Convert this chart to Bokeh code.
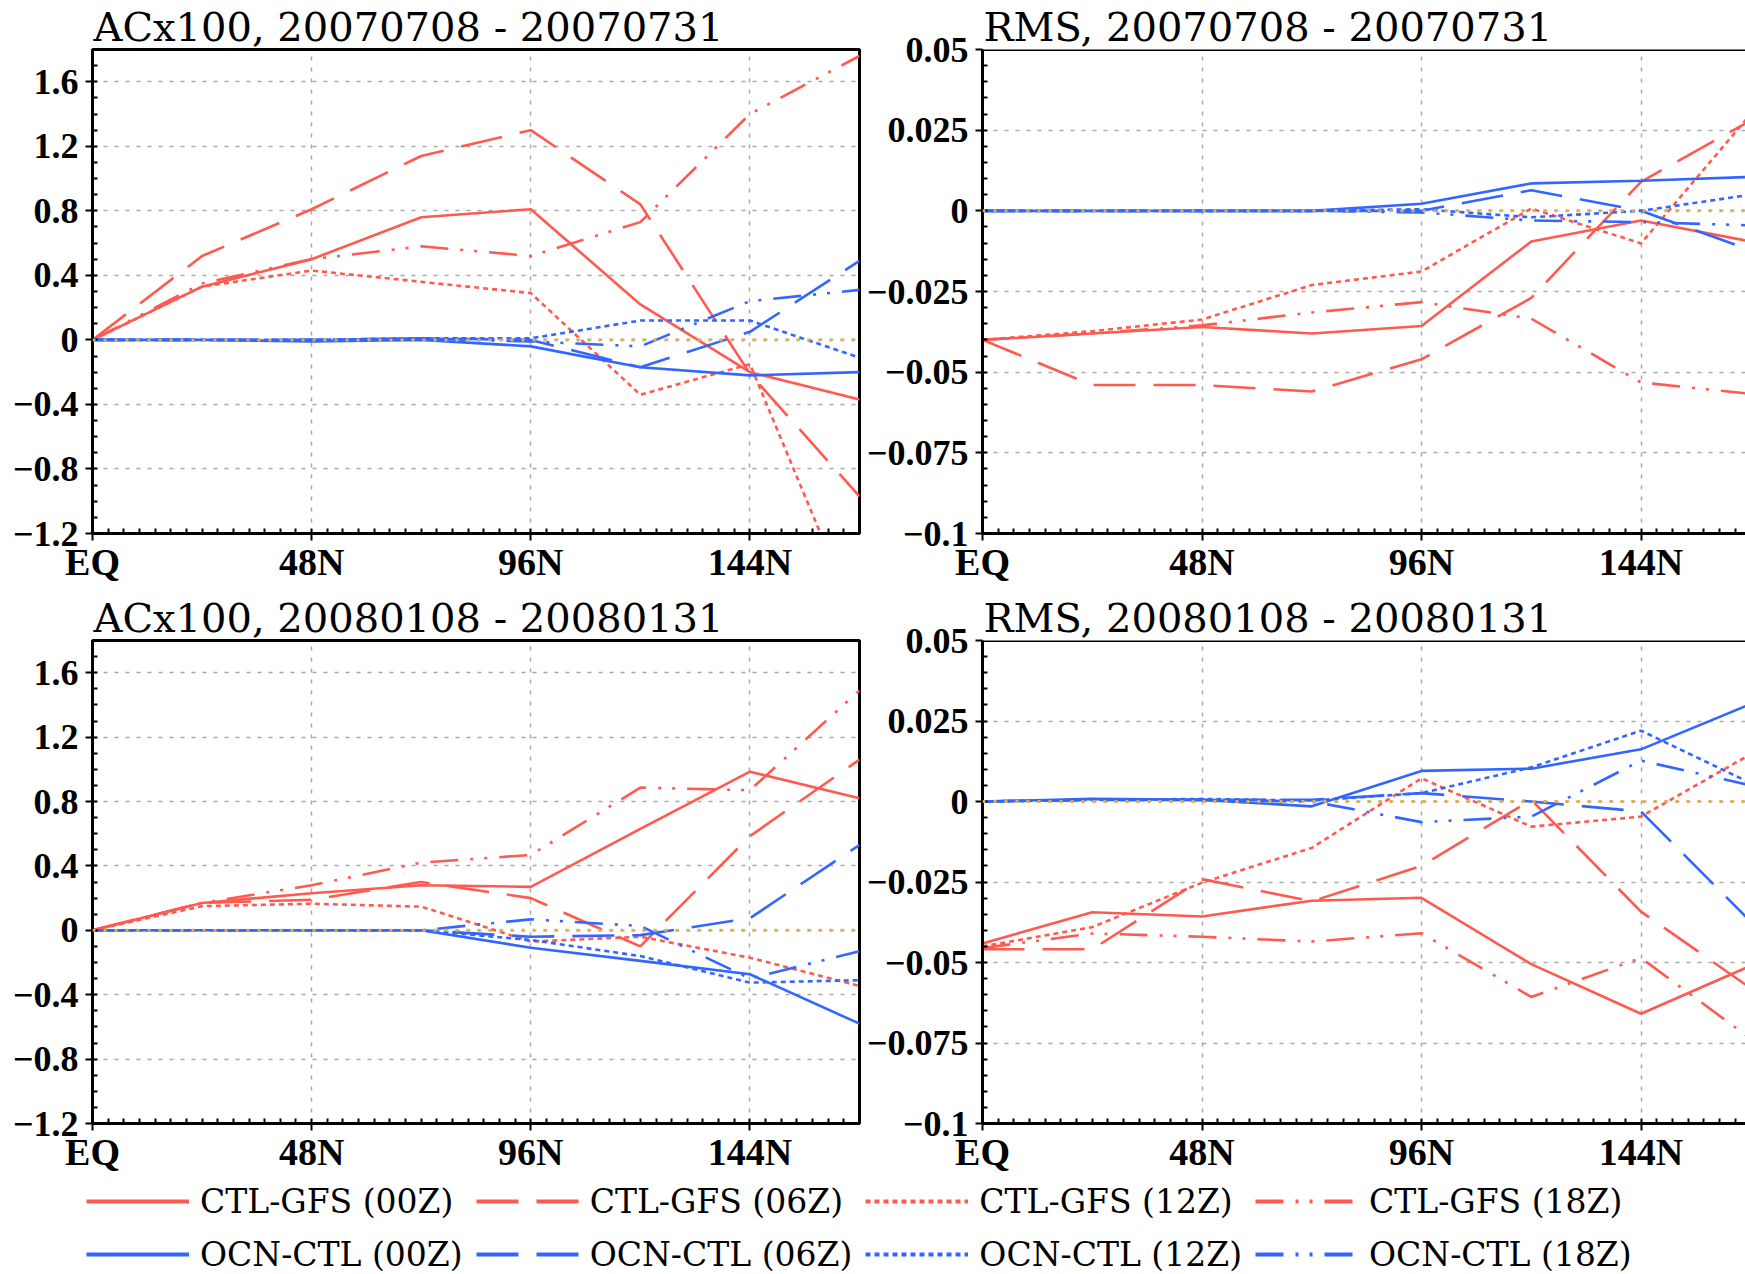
from bokeh.plotting import figure
from bokeh.models import (Range1d, FixedTicker, CustomJSTickFormatter, Span,
                          Legend, LegendItem)
from bokeh.layouts import column, row
from bokeh.embed import file_html
from bokeh.resources import INLINE

# ---------------- data ----------------
lat = [0, 24, 48, 72, 96, 120, 144, 168]

x_tick_values = [0, 48, 96, 144]
x_tick_labels = ["EQ", "48N", "96N", "144N"]

ac_tick_values = [-1.2, -0.8, -0.4, 0, 0.4, 0.8, 1.2, 1.6]
ac_tick_labels = ["\u22121.2", "\u22120.8", "\u22120.4", "0", "0.4", "0.8", "1.2", "1.6"]
rms_tick_values = [-0.1, -0.075, -0.05, -0.025, 0, 0.025, 0.05]
rms_tick_labels = ["\u22120.1", "\u22120.075", "\u22120.05", "\u22120.025", "0", "0.025", "0.05"]

series_names = ["CTL-GFS (00Z)", "CTL-GFS (06Z)", "CTL-GFS (12Z)", "CTL-GFS (18Z)",
                "OCN-CTL (00Z)", "OCN-CTL (06Z)", "OCN-CTL (12Z)", "OCN-CTL (18Z)"]

titles = ["ACx100, 20070708 - 20070731", "RMS, 20070708 - 20070731",
          "ACx100, 20080108 - 20080131", "RMS, 20080108 - 20080131"]

# ACx100, 2007
ac07_ctl00 = [0, 0.33, 0.50, 0.76, 0.81, 0.22, -0.20, -0.37]
ac07_ctl06 = [0, 0.52, 0.81, 1.14, 1.30, 0.84, -0.21, -0.97]
ac07_ctl12 = [0, 0.33, 0.43, 0.36, 0.29, -0.34, -0.15, -1.78]
ac07_ctl18 = [0, 0.35, 0.50, 0.58, 0.52, 0.73, 1.40, 1.76]
ac07_ocn00 = [0, 0, -0.01, 0.0, -0.04, -0.17, -0.22, -0.20]
ac07_ocn06 = [0, 0, 0, 0.01, 0.0, -0.17, 0.05, 0.49]
ac07_ocn12 = [0, 0, 0, 0.01, 0.01, 0.12, 0.12, -0.11]
ac07_ocn18 = [0, 0, 0, 0.01, -0.01, -0.04, 0.24, 0.31]

# RMS, 2007
rms07_ctl00 = [-0.040, -0.038, -0.036, -0.038, -0.0357, -0.0095, -0.003, -0.0095]
rms07_ctl06 = [-0.040, -0.054, -0.054, -0.056, -0.046, -0.027, 0.009, 0.028]
rms07_ctl12 = [-0.040, -0.0373, -0.0337, -0.023, -0.0188, 0.0007, -0.0101, 0.030]
rms07_ctl18 = [-0.040, -0.038, -0.0355, -0.0315, -0.0283, -0.0334, -0.0532, -0.0567]
rms07_ocn00 = [0, 0, 0, 0, 0.0022, 0.0085, 0.0093, 0.0105]
rms07_ocn06 = [0, 0, 0, 0, 0.0, 0.0064, 0.0, -0.0122]
rms07_ocn12 = [0, 0, 0, 0, 0.0005, -0.002, 0.0, 0.005]
rms07_ocn18 = [0, 0, 0, 0, -0.0005, -0.003, -0.0035, -0.0045]

# ACx100, 2008
ac08_ctl00 = [0, 0.17, 0.23, 0.28, 0.27, 0.63, 0.985, 0.82]
ac08_ctl06 = [0, 0.17, 0.19, 0.30, 0.20, -0.10, 0.585, 1.06]
ac08_ctl12 = [0, 0.15, 0.165, 0.147, -0.07, -0.04, -0.17, -0.345]
ac08_ctl18 = [0, 0.17, 0.28, 0.42, 0.468, 0.886, 0.87, 1.49]
ac08_ocn00 = [0, 0, 0, 0, -0.108, -0.19, -0.273, -0.58]
ac08_ocn06 = [0, 0, 0, 0, -0.04, -0.03, 0.075, 0.53]
ac08_ocn12 = [0, 0, 0, 0, -0.06, -0.16, -0.325, -0.31]
ac08_ocn18 = [0, 0, 0, 0.0, 0.068, 0.027, -0.30, -0.13]

# RMS, 2008
rms08_ctl00 = [-0.0441, -0.0344, -0.0357, -0.0308, -0.0299, -0.0505, -0.0659, -0.051]
rms08_ctl06 = [-0.0459, -0.0459, -0.0241, -0.031, -0.020, 0.0005, -0.0342, -0.058]
rms08_ctl12 = [-0.045, -0.039, -0.0252, -0.0144, 0.0072, -0.0078, -0.0047, 0.0147]
rms08_ctl18 = [-0.0455, -0.041, -0.042, -0.0435, -0.0409, -0.0607, -0.0486, -0.0737]
rms08_ocn00 = [0, 0.0008, 0.0005, -0.0015, 0.0095, 0.0102, 0.0162, 0.0303]
rms08_ocn06 = [0, 0.0005, 0.0005, 0.0005, 0.0026, 0.0, -0.0031, -0.0373]
rms08_ocn12 = [0, 0.0005, 0.0008, 0.0003, 0.0026, 0.0106, 0.022, 0.0057]
rms08_ocn18 = [0, 0.0005, 0.0005, 0.0, -0.0064, -0.0047, 0.0127, 0.005]

# ---------------- styles ----------------
RED = "#ff5a50"
BLUE = "#3366ff"
colors = [RED] * 4 + [BLUE] * 4
dashes = ["solid", "42 18", "5 4", "28 12 3 11 3 12"] * 2
TICK_FONT = "Liberation Serif"
TEXT_FONT = "DejaVu Serif"


def fmt(vals, labs):
    return CustomJSTickFormatter(args=dict(vals=vals, labs=labs), code="""
        for (let i = 0; i < vals.length; i++) {
            if (Math.abs(tick - vals[i]) < 1e-9) { return labs[i]; }
        }
        return "";
    """)


def panel(title, data, yr, yvals, ylabs, yminor, width, height, left, right,
          top, bottom, x_end, open_right):
    p = figure(width=width, height=height, x_range=Range1d(0, x_end),
               y_range=Range1d(*yr), output_backend="svg", toolbar_location=None,
               min_border_left=left, min_border_right=right,
               min_border_top=top, min_border_bottom=bottom)
    p.background_fill_color = "white"
    p.border_fill_color = "white"
    # title
    p.title.text = title
    p.title.text_font = TEXT_FONT
    p.title.text_font_size = "40px"
    p.title.text_font_style = "normal"
    p.title.text_color = "black"
    p.title.align = "left"
    p.title.standoff = 0
    p.title.offset = 1
    # axes
    xminor = [i * 48 / 14 for i in range(0, 50)]
    p.xaxis.ticker = FixedTicker(ticks=x_tick_values, minor_ticks=xminor)
    p.xaxis.formatter = fmt(x_tick_values, x_tick_labels)
    step = (yvals[1] - yvals[0]) / yminor
    ymin_ticks = [yr[0] + i * step for i in range(0, 200) if yr[0] + i * step <= yr[1] + 1e-9]
    p.yaxis.ticker = FixedTicker(ticks=yvals, minor_ticks=ymin_ticks)
    p.yaxis.formatter = fmt(yvals, ylabs)
    for ax in (p.xaxis[0], p.yaxis[0]):
        ax.axis_line_width = 3
        ax.axis_line_color = "black"
        ax.major_tick_out = 7
        ax.major_tick_in = 0
        ax.major_tick_line_width = 2
        ax.minor_tick_in = 5
        ax.minor_tick_out = 0
        ax.minor_tick_line_width = 2
        ax.major_label_text_font = TICK_FONT
        ax.major_label_text_font_style = "bold"
        ax.major_label_text_color = "black"
    p.xaxis.major_label_text_font_size = "38px"
    p.yaxis.major_label_text_font_size = "36px"
    p.xaxis.major_label_standoff = 0
    p.yaxis.major_label_standoff = 7
    # grids
    p.xgrid.ticker = FixedTicker(ticks=x_tick_values)
    p.ygrid.ticker = FixedTicker(ticks=yvals)
    for g in (p.xgrid[0], p.ygrid[0]):
        g.grid_line_color = "#a8a8a8"
        g.grid_line_dash = "4 7"
        g.grid_line_width = 1.5
    # frame
    if open_right:
        p.outline_line_color = None
        p.add_layout(Span(location=yr[1], dimension="width", line_color="black",
                          line_width=3))
    else:
        p.outline_line_color = "black"
        p.outline_line_width = 3
        p.outline_line_alpha = 1
    # series
    for vals, c, d in zip(data, colors, dashes):
        p.line(lat, vals, line_color=c, line_width=2.6, line_dash=d)
    # zero reference line
    p.add_layout(Span(location=0, dimension="width", line_color="#dcb050",
                      line_width=3, line_dash="3 8"))
    return p


ac07 = [ac07_ctl00, ac07_ctl06, ac07_ctl12, ac07_ctl18,
        ac07_ocn00, ac07_ocn06, ac07_ocn12, ac07_ocn18]
rms07 = [rms07_ctl00, rms07_ctl06, rms07_ctl12, rms07_ctl18,
         rms07_ocn00, rms07_ocn06, rms07_ocn12, rms07_ocn18]
ac08 = [ac08_ctl00, ac08_ctl06, ac08_ctl12, ac08_ctl18,
        ac08_ocn00, ac08_ocn06, ac08_ocn12, ac08_ocn18]
rms08 = [rms08_ctl00, rms08_ctl06, rms08_ctl12, rms08_ctl18,
         rms08_ocn00, rms08_ocn06, rms08_ocn12, rms08_ocn18]

RIGHT_END = 166.85

p1 = panel(titles[0], ac07, (-1.2, 1.8), ac_tick_values, ac_tick_labels, 4,
           862, 590, 92, 3, 49, 57, 168, False)
p2 = panel(titles[1], rms07, (-0.1, 0.05), rms_tick_values, rms_tick_labels, 5,
           883, 590, 120, 0, 49, 57, RIGHT_END, True)
p3 = panel(titles[2], ac08, (-1.2, 1.8), ac_tick_values, ac_tick_labels, 4,
           862, 590, 92, 3, 50, 57, 168, False)
p4 = panel(titles[3], rms08, (-0.1, 0.05), rms_tick_values, rms_tick_labels, 5,
           883, 590, 120, 0, 50, 57, RIGHT_END, True)

# ---------------- legend strip ----------------
lg = figure(width=1745, height=94, x_range=Range1d(0, 1), y_range=Range1d(0, 1),
            output_backend="svg", toolbar_location=None,
            x_axis_type=None, y_axis_type=None,
            min_border_left=0, min_border_right=0, min_border_top=0, min_border_bottom=0)
lg.outline_line_color = None
lg.xgrid.visible = False
lg.ygrid.visible = False
items = []
for name, c, d in zip(series_names, colors, dashes):
    # legend-only renderer: its points lie outside the visible range
    r = lg.line(x=lat[:2], y=[-5, -5], line_color=c, line_width=4, line_dash=d)
    items.append(LegendItem(label=name, renderers=[r]))
legend = Legend(items=items, location=(86, 0), orientation="horizontal", ncols=4,
                glyph_width=103, glyph_height=40, label_height=40, label_standoff=11,
                spacing=13, padding=0, margin=0, border_line_color=None,
                background_fill_alpha=0, label_text_font=TEXT_FONT,
                label_text_font_size="33px", label_text_color="black")
lg.add_layout(legend, "center")

layout = column(row(p1, p2), row(p3, p4), lg)

open("out.html", "w").write(file_html(layout, INLINE))
